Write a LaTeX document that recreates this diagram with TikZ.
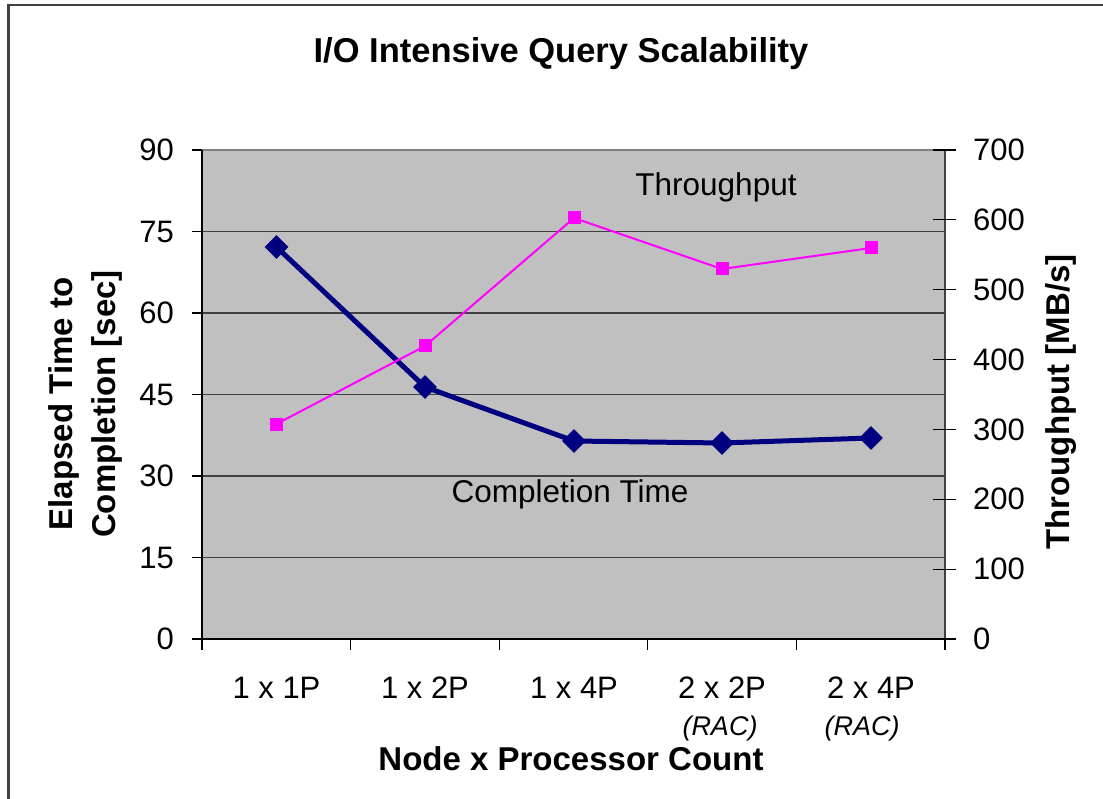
\documentclass[tikz,border=0pt]{standalone}
\usepackage{fontspec}
\setmainfont{Liberation Sans}
\usetikzlibrary{shapes.geometric}
\definecolor{plotgray}{HTML}{C0C0C0}
\definecolor{gridgray}{HTML}{404040}
\definecolor{navyblue}{HTML}{000080}
\definecolor{magentac}{HTML}{FF00FF}
\begin{document}
\begin{tikzpicture}[x=1pt,y=-1pt,
  ticklab/.style={font=\fontsize{31}{31}\selectfont, inner sep=0pt},
  catlab/.style={font=\fontsize{31}{31}\selectfont, inner sep=0pt, anchor=base},
  raclab/.style={font=\fontsize{27}{27}\selectfont\itshape, inner sep=0pt, anchor=base},
  axtitle/.style={font=\fontsize{33}{33}\selectfont\bfseries, inner sep=0pt, anchor=base},
  serieslab/.style={font=\fontsize{31.5}{31.5}\selectfont, inner sep=0pt, anchor=base},
  gridline/.style={draw=gridgray, line width=1.2pt},
  axisline/.style={draw=black, line width=1.2pt},
  ctline/.style={draw=navyblue, line width=5pt, line join=round},
  tpline/.style={draw=magentac, line width=2pt, line join=round},
  diam/.style={shape=diamond, fill=navyblue, inner sep=0pt, minimum width=24pt, minimum height=24pt},
  sq/.style={shape=rectangle, fill=magentac, inner sep=0pt, minimum size=13pt},
  frameline/.style={draw=gridgray, line width=2.2pt}
]
\useasboundingbox (0,0) rectangle (1103,799);
% outer frame
\draw[frameline] (8.5,799) -- (8.5,5) -- (1103,5);
% title
\node[axtitle, font=\fontsize{34.5}{34.5}\selectfont\bfseries] (title) at (561,63) {I/O Intensive Query Scalability};
% plot area
\fill[plotgray] (202,150) rectangle (945,639);
\draw[draw=gray, line width=1.5pt] (202,150) -- (945,150);
% gridlines
\foreach \v in {15,30,45,60,75} {
  \draw[gridline] (202,{639-5.43333*\v}) -- (945,{639-5.43333*\v});
}
% axes
\draw[axisline] (202,150) -- (202,650);
\draw[axisline] (192,639) -- (945,639);
\draw[draw=gridgray, line width=1.5pt] (945,150) -- (945,650);
% left ticks and labels
\foreach \v in {0,15,30,45,60,75,90} {
  \draw[axisline] (192,{639-5.43333*\v}) -- (202,{639-5.43333*\v});
  \node[ticklab, anchor=east] (l\v) at (174,{639-5.43333*\v}) {\v};
}
% right ticks and labels
\foreach \v in {0,100,200,300,400,500,600,700} {
  \draw[axisline] (933,{639-0.698571*\v}) -- (956,{639-0.698571*\v});
  \node[ticklab, anchor=west] (r\v) at (973,{639-0.698571*\v}) {\v};
}
% bottom ticks
\foreach \x in {202,350.6,499.2,647.8,796.4,945} {
  \draw[axisline] (\x,639) -- (\x,650);
}
% category labels
\node[catlab] (c1) at (276.5,698) {1 x 1P};
\node[catlab] (c2) at (425,698) {1 x 2P};
\node[catlab] (c3) at (574,698) {1 x 4P};
\node[catlab] (c4) at (722,698) {2 x 2P};
\node[catlab] (c5) at (871,698) {2 x 4P};
\node[raclab] (rac1) at (720,735) {(RAC)};
\node[raclab] (rac2) at (862,735) {(RAC)};
% axis titles
\node[axtitle] (xtitle) at (571,770) {Node x Processor Count};
\node[axtitle, rotate=90] (yt1) at (72,404) {Elapsed Time to};
\node[axtitle, rotate=90] (yt2) at (115,404) {Completion [sec]};
\node[axtitle, rotate=90] (yt3) at (1069,402) {Throughput [MB/s]};
% series labels
\node[serieslab] (tplab) at (716,196) {Throughput};
\node[serieslab] (ctlab) at (570,502) {Completion Time};
% completion time series
\coordinate (ct1) at (276.5,247);
\coordinate (ct2) at (425,387);
\coordinate (ct3) at (574,441);
\coordinate (ct4) at (722,443);
\coordinate (ct5) at (871,438);
\draw[ctline] (ct1) -- (ct2) -- (ct3) -- (ct4) -- (ct5);
\foreach \i in {1,...,5} { \node[diam] (mct\i) at (ct\i) {}; }
% throughput series
\coordinate (tp1) at (276.5,424);
\coordinate (tp2) at (425,346);
\coordinate (tp3) at (574,218);
\coordinate (tp4) at (722,269);
\coordinate (tp5) at (871,248);
\draw[tpline] (tp1) -- (tp2) -- (tp3) -- (tp4) -- (tp5);
\foreach \i in {1,...,5} { \node[sq] (mtp\i) at (tp\i) {}; }
\end{tikzpicture}
\end{document}
